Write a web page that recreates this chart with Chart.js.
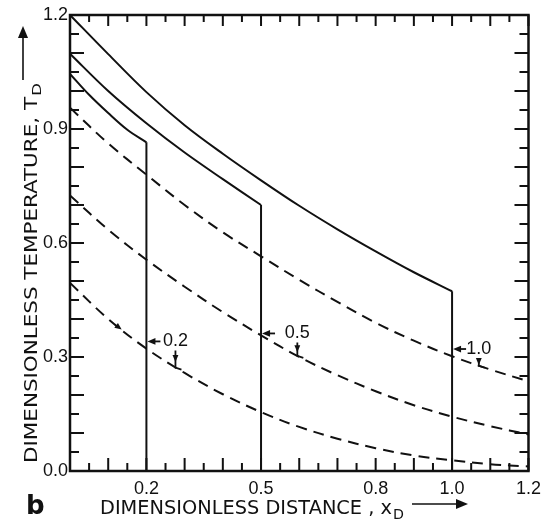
<!DOCTYPE html>
<html>
<head>
<meta charset="utf-8">
<script src="https://cdn.jsdelivr.net/npm/chart.js@4/dist/chart.umd.min.js"></script>
<style>
  html, body { margin: 0; padding: 0; background: #fff; }
  #wrap { width: 548px; height: 520px; }
</style>
</head>
<body>
<div id="wrap"><canvas id="tempChart" width="548" height="520"></canvas></div>
<script>
// Valores (T_D contra x_D)
const xTickLabels = [0.2, 0.5, 0.8, 1.0, 1.2];
const yTickLabels = [0.0, 0.3, 0.6, 0.9, 1.2];

// curvas continuas (ate a frente x_f = 0.2, 0.5, 1.0)
const xSolid02 = [0, 0.05, 0.1, 0.15, 0.2];
const tSolid02 = [1.045, 0.99, 0.942, 0.898, 0.865];
const xSolid05 = [0, 0.1, 0.2, 0.3, 0.4, 0.5];
const tSolid05 = [1.098, 1.0, 0.915, 0.838, 0.768, 0.70];
const xSolid10 = [0, 0.1, 0.2, 0.3, 0.4, 0.5, 0.6, 0.7, 0.8, 0.9, 1.0];
const tSolid10 = [1.2, 1.097, 0.997, 0.91, 0.835, 0.765, 0.698, 0.636, 0.578, 0.523, 0.473];

// curvas tracejadas
const xDashed = [0, 0.1, 0.2, 0.3, 0.4, 0.5, 0.6, 0.7, 0.8, 0.9, 1.0, 1.1, 1.2];
const tDashed10 = [0.956, 0.862, 0.78, 0.70, 0.628, 0.565, 0.503, 0.445, 0.39, 0.343, 0.302, 0.267, 0.236];
const tDashed05 = [0.725, 0.635, 0.556, 0.485, 0.418, 0.357, 0.300, 0.252, 0.21, 0.173, 0.143, 0.118, 0.096];
const tDashed02 = [0.495, 0.40, 0.322, 0.258, 0.202, 0.155, 0.116, 0.085, 0.06, 0.041, 0.028, 0.018, 0.012];

const INK = '#111';

function toPoints(xs, ys) {
    return xs.map((x, i) => ({ x: x, y: ys[i] }));
}
// linha vertical da frente: do ultimo ponto ate zero
function dropLine(xs, ys) {
    const n = xs.length - 1;
    return [{ x: xs[n], y: ys[n] }, { x: xs[n], y: 0 }];
}

function solid(data) {
    return { data, borderColor: INK, borderWidth: 2, pointRadius: 0, showLine: true, tension: 0.35 };
}
function dashed(data) {
    return { data, borderColor: INK, borderWidth: 2, pointRadius: 0, showLine: true, tension: 0.35, borderDash: [11, 7] };
}
function vertical(data) {
    return { data, borderColor: INK, borderWidth: 2, pointRadius: 0, showLine: true, tension: 0 };
}

function arrowHead(ctx, x, y, angle, size) {
    ctx.save();
    ctx.translate(x, y);
    ctx.rotate(angle);
    ctx.beginPath();
    ctx.moveTo(0, 0);
    ctx.lineTo(-size, -size * 0.42);
    ctx.lineTo(-size, size * 0.42);
    ctx.closePath();
    ctx.fill();
    ctx.restore();
}

// marcas internas nos quatro lados + moldura
const frameTicks = {
    id: 'frameTicks',
    afterDatasetsDraw(chart) {
        const { ctx, chartArea: a, scales } = chart;
        ctx.save();
        ctx.strokeStyle = INK;
        ctx.lineWidth = 2;
        scales.x.ticks.forEach(t => {
            const px = scales.x.getPixelForValue(t.value);
            const long = Math.round(t.value * 100) % 10 === 0;
            const L = long ? 13 : 8;
            ctx.beginPath();
            ctx.moveTo(px, a.bottom); ctx.lineTo(px, a.bottom - L);
            ctx.moveTo(px, a.top); ctx.lineTo(px, a.top + (long ? 11 : 7));
            ctx.stroke();
        });
        scales.y.ticks.forEach(t => {
            const py = scales.y.getPixelForValue(t.value);
            const long = Math.round(t.value * 100) % 10 === 0;
            const L = long ? 14 : 9;
            ctx.beginPath();
            ctx.moveTo(a.left, py); ctx.lineTo(a.left + L, py);
            ctx.moveTo(a.right, py); ctx.lineTo(a.right - L, py);
            ctx.stroke();
        });
        ctx.lineWidth = 2.5;
        ctx.strokeRect(a.left, a.top, a.right - a.left, a.bottom - a.top);
        ctx.restore();
    }
};

// rotulos 0.2 / 0.5 / 1.0 com setas
const frontNotes = {
    id: 'frontNotes',
    afterDraw(chart) {
        const { ctx, scales } = chart;
        const sx = scales.x, sy = scales.y;
        const notes = [
            { text: '0.2', xf: 0.2, yArrow: 0.341, xDown: 0.276, yCurve: 0.272 },
            { text: '0.5', xf: 0.5, yArrow: 0.362, xDown: 0.595, yCurve: 0.303 },
            { text: '1.0', xf: 1.0, yArrow: 0.321, xDown: 1.07, yCurve: 0.277 }
        ];
        ctx.save();
        ctx.strokeStyle = INK;
        ctx.fillStyle = INK;
        ctx.lineWidth = 1.8;
        ctx.font = '18px "Liberation Sans", sans-serif';
        ctx.textBaseline = 'middle';
        ctx.textAlign = 'center';
        notes.forEach(n => {
            const vx = sx.getPixelForValue(n.xf);
            const ay = sy.getPixelForValue(n.yArrow);
            const dx = sx.getPixelForValue(n.xDown);
            const cy = sy.getPixelForValue(n.yCurve);
            // seta horizontal apontando para a linha vertical
            ctx.beginPath();
            ctx.moveTo(vx + 14, ay); ctx.lineTo(vx + 6, ay);
            ctx.stroke();
            arrowHead(ctx, vx + 1, ay, Math.PI, 8);
            ctx.fillText(n.text, dx, ay);
            // seta para baixo ate a curva tracejada
            const top = ay + 9;
            ctx.beginPath();
            ctx.moveTo(dx, top); ctx.lineTo(dx, cy);
            ctx.lineTo(dx + 6, cy + 2);
            ctx.stroke();
            arrowHead(ctx, dx, (top + cy) / 2 + 3, Math.PI / 2, 7);
        });
        // pequena seta sobre a curva tracejada inferior
        const mx = sx.getPixelForValue(0.13), my = sy.getPixelForValue(0.376);
        arrowHead(ctx, mx + 2, my + 1.5, Math.atan2(14, 18), 7);
        ctx.restore();
    }
};

// titulos dos eixos (com subscrito e seta) e letra do painel
const axisTitles = {
    id: 'axisTitles',
    afterDraw(chart) {
        const { ctx } = chart;
        ctx.save();
        ctx.fillStyle = INK;
        ctx.strokeStyle = INK;
        ctx.lineWidth = 1.6;
        ctx.textBaseline = 'alphabetic';
        ctx.textAlign = 'left';

        // eixo x
        const xText = 'DIMENSIONLESS DISTANCE , x';
        ctx.font = '19px "DejaVu Sans", sans-serif';
        let w = ctx.measureText(xText).width;
        let k = 292 / w;
        ctx.save();
        ctx.translate(100, 514);
        ctx.scale(k, 1);
        ctx.fillText(xText, 0, 0);
        ctx.font = '14px "DejaVu Sans", sans-serif';
        ctx.fillText('D', w + 1, 5);
        ctx.restore();
        ctx.beginPath();
        ctx.moveTo(412, 504); ctx.lineTo(458, 504);
        ctx.stroke();
        arrowHead(ctx, 468, 504, 0, 12);

        // eixo y
        const yText = 'DIMENSIONLESS TEMPERATURE, T';
        ctx.font = '17px "DejaVu Sans", sans-serif';
        w = ctx.measureText(yText).width;
        k = 366 / w;
        ctx.save();
        ctx.translate(37, 463);
        ctx.rotate(-Math.PI / 2);
        ctx.scale(k, 1);
        ctx.fillText(yText, 0, 0);
        ctx.font = '13px "DejaVu Sans", sans-serif';
        ctx.fillText('D', w + 1, 4);
        ctx.restore();
        ctx.beginPath();
        ctx.moveTo(23, 80); ctx.lineTo(23, 36);
        ctx.stroke();
        arrowHead(ctx, 23, 26, -Math.PI / 2, 12);

        // letra do painel
        ctx.font = 'bold 26px "DejaVu Sans", sans-serif';
        ctx.fillText('b', 26, 514);
        ctx.restore();
    }
};

const ctx = document.getElementById('tempChart').getContext('2d');
const tempChart = new Chart(ctx, {
    type: 'scatter',
    data: {
        datasets: [
            solid(toPoints(xSolid10, tSolid10)),
            solid(toPoints(xSolid05, tSolid05)),
            solid(toPoints(xSolid02, tSolid02)),
            vertical(dropLine(xSolid10, tSolid10)),
            vertical(dropLine(xSolid05, tSolid05)),
            vertical(dropLine(xSolid02, tSolid02)),
            dashed(toPoints(xDashed, tDashed10)),
            dashed(toPoints(xDashed, tDashed05)),
            dashed(toPoints(xDashed, tDashed02))
        ]
    },
    options: {
        responsive: false,
        animation: false,
        layout: { padding: { left: 0, right: 17, top: 15, bottom: 0 } },
        scales: {
            x: {
                type: 'linear',
                min: 0,
                max: 1.2,
                grid: { display: false, drawTicks: false },
                border: { display: false },
                afterFit: s => { s.height = 49; },
                ticks: {
                    stepSize: 0.05,
                    autoSkip: false,
                    maxRotation: 0,
                    padding: 7,
                    color: INK,
                    font: { family: '"Liberation Sans", sans-serif', size: 18 },
                    callback: v => xTickLabels.some(t => Math.abs(t - v) < 1e-6) ? v.toFixed(1) : ''
                }
            },
            y: {
                type: 'linear',
                min: 0,
                max: 1.2,
                grid: { display: false, drawTicks: false },
                border: { display: false },
                afterFit: s => { s.width = 70; },
                ticks: {
                    stepSize: 0.05,
                    autoSkip: false,
                    padding: 2,
                    color: INK,
                    font: { family: '"Liberation Sans", sans-serif', size: 18 },
                    callback: v => yTickLabels.some(t => Math.abs(t - v) < 1e-6) ? v.toFixed(1) : ''
                }
            }
        },
        plugins: {
            legend: { display: false },
            tooltip: { enabled: false }
        }
    },
    plugins: [frameTicks, frontNotes, axisTitles]
});
</script>
</body>
</html>
